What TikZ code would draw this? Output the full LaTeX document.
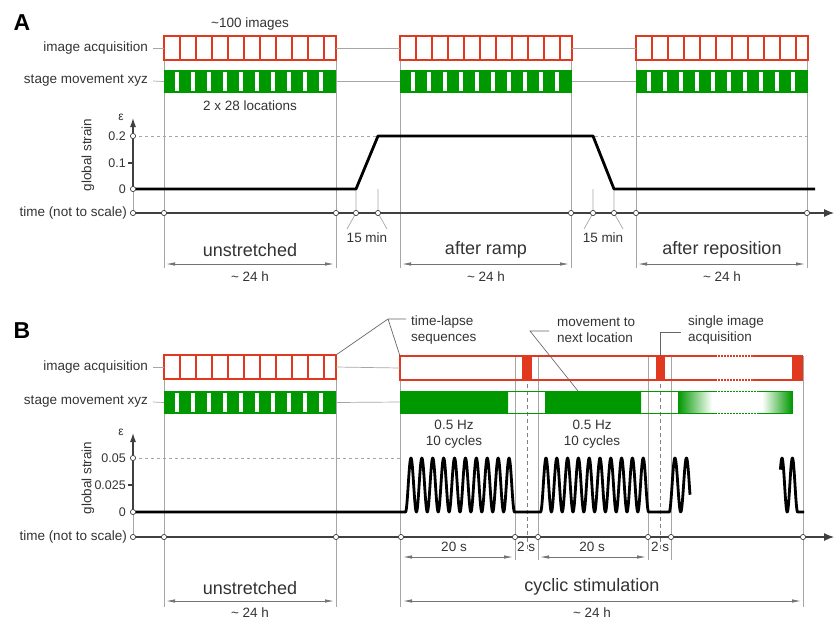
\documentclass[tikz,border=0pt]{standalone}
\usepackage{fontspec}
\setmainfont{Liberation Sans}
\usetikzlibrary{arrows.meta,positioning}
\definecolor{acqred}{RGB}{226,56,32}
\definecolor{movgreen}{RGB}{0,152,0}

\begin{document}
\begin{tikzpicture}[x=1pt,y=-1pt,
    txt/.style={font=\fontsize{13.5}{16}\selectfont,text=black!80,inner sep=0},
    num/.style={font=\fontsize{12.5}{14}\selectfont,text=black!80,inner sep=0},
    phase/.style={font=\fontsize{18}{20}\selectfont,text=black!80,inner sep=0},
    panel/.style={font=\fontsize{23}{26}\selectfont\bfseries,inner sep=0},
    guide/.style={draw=black!35,line width=0.7pt},
    leader/.style={draw=black!60,line width=0.7pt},
    dim/.style={draw=black!55,line width=0.8pt,
        {Latex[length=9pt,width=3.5pt]}-{Latex[length=9pt,width=3.5pt]},
        shorten <=2pt,shorten >=2pt},
    axis/.style={draw=black!75,line width=1.1pt},
    tmark/.style={circle,draw=black!75,fill=white,line width=0.7pt,
        inner sep=0,minimum size=5.2pt},
    strain/.style={line width=2.8pt,line join=round},
    acqbar/.style={draw=acqred,line width=1.7pt,fill=white,minimum width=172pt,
        minimum height=24pt,inner sep=0,outer sep=0},
    movbar/.style={fill=movgreen,minimum width=172pt,minimum height=23pt,
        inner sep=0,outer sep=0}
]
\useasboundingbox (0,0) rectangle (834,622);

% guide lines
\foreach \x in {164,336,400,571,636,807} \draw[guide] (\x,36) -- (\x,268);
\foreach \x/\d in {356/-9,378/9,593/-9,614/9} \draw[guide] (\x,189) -- (\x,213) -- ++(\d,16);
\foreach \x in {164,336,400,803} \draw[guide] (\x,356) -- (\x,607);
\foreach \x in {515,538,648,671} \draw[guide] (\x,356) -- (\x,560);
\foreach \x in {527,660} \draw[guide,draw=black!50,dash pattern=on 4pt off 3pt] (\x,356) -- (\x,552);

% time-lapse blocks
\foreach \x/\ry/\gy/\nm in {164/36/70/A1,400/36/70/A2,636/36/70/A3,164/355/391/B1}{
  \node[acqbar,anchor=north west] (acq\nm) at (\x,\ry) {};
  \foreach \k in {1,...,10} \draw[acqred,line width=1.5pt] (\x+16*\k,\ry) -- ++(0,24);
  \node[movbar,anchor=north west] (mov\nm) at (\x,\gy) {};
  \foreach \k in {1,...,10} \fill[white] (\x+16*\k-5,\gy+2) rectangle ++(4,19);
}

% cyclic part
\node[acqbar,fill=none,line width=1.8pt,minimum width=402pt,anchor=north west] (acqB2) at (400,356) {};
\foreach \a/\b in {522/532,656/665,792/802} \fill[acqred] (\a,356) rectangle (\b,380);
\fill[white] (715,353) rectangle (752,359) (715,377) rectangle (752,383);
\draw[acqred,line width=1.6pt,dash pattern=on 1.5pt off 1.5pt] (715,356) -- (752,356) (715,380) -- (752,380);
\fill[movgreen] (400,391) rectangle (508,413) (545,391) rectangle (641,413);
\shade[left color=movgreen,right color=white] (678,391) rectangle (712,413);
\shade[left color=white,right color=movgreen] (762,391) rectangle (792,413);
\node[draw=movgreen,line width=1pt,minimum width=392pt,minimum height=22pt,inner sep=0,
    outer sep=0,anchor=north west] (movB2) at (400,391) {};
\fill[white] (715,389) rectangle (758,393) (715,411) rectangle (758,415);
\draw[movgreen,line width=1pt,dash pattern=on 1.5pt off 1.5pt] (715,391) -- (758,391) (715,413) -- (758,413);

% row labels
\node[panel] (pA) at (22,23) {A};
\node[panel] (pB) at (22,331) {B};
\foreach \p/\ya/\ym in {A/48/81,B/367/402}{
  \node[txt,anchor=east] (acql\p) at (148,\ya) {image acquisition};
  \node[txt,anchor=east] (movl\p) at (148,\ym) {stage movement xyz};
  \draw[guide] ([xshift=5pt]acql\p.east) -- (acq\p1.west);
  \draw[guide] ([xshift=5pt]movl\p.east) -- (mov\p1.west);
}
\draw[guide] (acqA1.east) -- (acqA2.west) (acqA2.east) -- (acqA3.west);
\draw[guide] (movA1.east) -- (movA2.west) (movA2.east) -- (movA3.west);
\draw[guide] (acqB1.east) -- (acqB2.west) (movB1.east) -- (movB2.west);
\node[txt] (nimg) at (250,24) {\textasciitilde100 images};
\node[txt] (nloc) at (250,106) {2 x 28 locations};

% strain A
\draw[guide] (133,189) -- (133,213);
\draw[axis,-{Latex[length=9pt,width=6pt]}] (133,189) -- (133,118);
\draw[axis] (128,163) -- (133,163);
\node[num,anchor=east] (sA2) at (126,136) {0.2};
\node[num,anchor=east] (sA1) at (126,163) {0.1};
\node[num,anchor=east] (sA0) at (126,189) {0};
\node[num,font=\fontsize{12}{12}\selectfont] (epsA) at (121,117) {ε};
\node[txt,rotate=90] (gsA) at (88,155) {global strain};
\draw[guide,dashed] (133,136) -- (807,136);
\draw[strain] (133,189) -- (356,189) -- (378,136) -- (593,136) -- (614,189) -- (815,189);
\draw[axis,-{Latex[length=10pt,width=8pt]}] (133,213) -- (834,213);
\foreach \x in {133,164,336,356,378,571,593,614,636,807} \node[tmark] (tA\x) at (\x,213) {};
\node[tmark] (zA2) at (133,136) {};
\node[tmark] (zA0) at (133,189) {};
\node[txt,anchor=east] (timeA) at (127,213) {time (not to scale)};
\node[txt] (rampA) at (367,238) {15 min};
\node[txt] (backA) at (603,238) {15 min};
\foreach \c/\a/\b/\t in {250/164/336/unstretched,486/400/571/after ramp,722/636/807/after reposition}{
  \node[phase] at (\c,250) {\t};
  \draw[dim] (\a,264) -- (\b,264);
  \node[txt] at (\c,277) {\textasciitilde\ 24 h};
}

% strain B
\draw[guide] (133,512) -- (133,537);
\draw[axis,-{Latex[length=9pt,width=6pt]}] (133,512) -- (133,433);
\draw[axis] (128,485) -- (133,485);
\node[num,anchor=east] (sB2) at (126,458) {0.05};
\node[num,anchor=east] (sB1) at (126,485) {0.025};
\node[num,anchor=east] (sB0) at (126,512) {0};
\node[num,font=\fontsize{12}{12}\selectfont] (epsB) at (121,432) {ε};
\node[txt,rotate=90] (gsB) at (88,478) {global strain};
\draw[guide,dashed] (133,458) -- (401,458);
\draw[strain] (133,512) -- (405.5,512)
  -- plot[domain=405.5:514.5,samples=241] (\x,{512-27*(1-cos((\x-405.5)*33.0275))})
  -- (540.6,512)
  -- plot[domain=540.6:648.6,samples=241] (\x,{512-27*(1-cos((\x-540.6)*33.3333))})
  -- (669.2,512)
  -- plot[domain=669.2:690,samples=60] (\x,{512-27*(1-cos((\x-669.2)*31.3043))});
\draw[strain] plot[domain=780.4:797.6,samples=60] (\x,{512-27*(1-cos((\x-776.8)*34.6154))}) -- (804,512);
\draw[axis,-{Latex[length=10pt,width=8pt]}] (133,537) -- (834,537);
\foreach \x in {133,164,336,401,515,538,648,671,803} \node[tmark] (tB\x) at (\x,537) {};
\node[tmark] (zB2) at (133,458) {};
\node[tmark] (zB0) at (133,512) {};
\node[txt,anchor=east] (timeB) at (127,537) {time (not to scale)};
\node[txt,align=center] (hz1) at (454,434) {0.5 Hz\\10 cycles};
\node[txt,align=center] (hz2) at (592,434) {0.5 Hz\\10 cycles};
\draw[dim] (401,557) -- (515,557);
\draw[dim] (538,557) -- (648,557);
\node[txt] (d20a) at (454,547) {20 s};
\node[txt] (d20b) at (592,547) {20 s};
\node[txt] (d2a) at (526,547) {2 s};
\node[txt] (d2b) at (660,547) {2 s};
\node[phase] (unB) at (250,588) {unstretched};
\draw[dim] (164,601) -- (336,601);
\node[txt] (hB1) at (250,613) {\textasciitilde\ 24 h};
\node[phase] (cyc) at (592,587) {cyclic stimulation};
\draw[dim] (401,601) -- (803,601);
\node[txt] (hB2) at (592,613) {\textasciitilde\ 24 h};

% annotations
\node[txt,align=left,anchor=west] (tls) at (411,330) {time-lapse\\sequences};
\coordinate (tlsK) at (388,319);
\draw[leader] (406,319) -- (tlsK) -- (acqB1.north east);
\draw[leader] (tlsK) -- (acqB2.north west);
\node[txt,align=left,anchor=west] (mvl) at (557,330) {movement to\\next location};
\coordinate (mvlK) at (530,331);
\draw[leader] (549,331) -- (mvlK) -- (578,391);
\node[txt,align=left,anchor=west] (sia) at (688,330) {single image\\acquisition};
\coordinate (siaK) at (660,332);
\draw[leader] (681,332) -- (siaK) -- (660,356);
\end{tikzpicture}
\end{document}
